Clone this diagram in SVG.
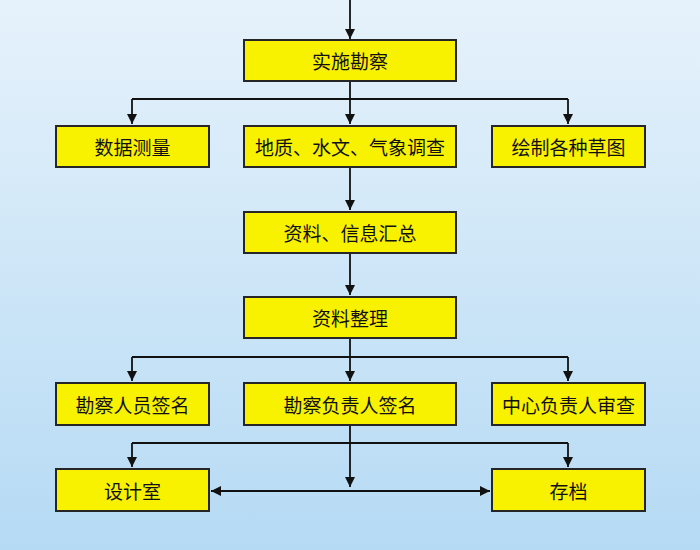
<svg xmlns="http://www.w3.org/2000/svg" width="700" height="550" viewBox="0 0 700 550">
<defs>
<linearGradient id="bg" x1="0" y1="0" x2="0" y2="1">
<stop offset="0" stop-color="#e6f2fb"/>
<stop offset="1" stop-color="#b5daf4"/>
</linearGradient>
<marker id="ah" markerWidth="10" markerHeight="12" refX="10" refY="6" orient="auto" markerUnits="userSpaceOnUse">
<path d="M0,1 L10,6 L0,11 Z" fill="#111"/>
</marker>
<marker id="ahs" markerWidth="10" markerHeight="12" refX="10" refY="6" orient="auto-start-reverse" markerUnits="userSpaceOnUse">
<path d="M0,1 L10,6 L0,11 Z" fill="#111"/>
</marker>
</defs>
<style>
.box{fill:#f8f200;stroke:#262626;stroke-width:2}
.t{font-family:"Noto Sans CJK SC","Noto Sans",sans-serif;font-size:19px;fill:#111;text-anchor:middle;dominant-baseline:central}
.c{fill:none;stroke:#111;stroke-width:1.8}
</style>
<rect width="700" height="550" fill="url(#bg)"/>
<g id="connectors">
<path class="c" d="M350,0 V39" marker-end="url(#ah)"/>
<path class="c" d="M350,81 V124" marker-end="url(#ah)"/>
<path class="c" d="M132,99 H568"/>
<path class="c" d="M132,99 V124" marker-end="url(#ah)"/>
<path class="c" d="M568,99 V124" marker-end="url(#ah)"/>
<path class="c" d="M350,167 V210" marker-end="url(#ah)"/>
<path class="c" d="M350,253 V295" marker-end="url(#ah)"/>
<path class="c" d="M350,338 V381" marker-end="url(#ah)"/>
<path class="c" d="M132,357 H568"/>
<path class="c" d="M132,357 V381" marker-end="url(#ah)"/>
<path class="c" d="M568,357 V381" marker-end="url(#ah)"/>
<path class="c" d="M350,425 V487" marker-end="url(#ah)"/>
<path class="c" d="M132,443 H568"/>
<path class="c" d="M132,443 V467" marker-end="url(#ah)"/>
<path class="c" d="M568,443 V467" marker-end="url(#ah)"/>
<path class="c" d="M211,491 H490" marker-start="url(#ahs)" marker-end="url(#ah)"/>
</g>
<g id="n1"><rect class="box" x="244" y="40" width="212" height="41"/><text class="t" x="350" y="60.5">实施勘察</text></g>
<g id="n2"><rect class="box" x="56" y="126" width="153" height="41"/><text class="t" x="132.5" y="146.5">数据测量</text></g>
<g id="n3"><rect class="box" x="244" y="126" width="212" height="41"/><text class="t" x="350" y="146.5">地质、水文、气象调查</text></g>
<g id="n4"><rect class="box" x="492" y="126" width="153" height="41"/><text class="t" x="568.5" y="146.5">绘制各种草图</text></g>
<g id="n5"><rect class="box" x="244" y="212" width="212" height="41"/><text class="t" x="350" y="232.5">资料、信息汇总</text></g>
<g id="n6"><rect class="box" x="244" y="297" width="212" height="41"/><text class="t" x="350" y="317.5">资料整理</text></g>
<g id="n7"><rect class="box" x="56" y="383" width="153" height="42"/><text class="t" x="132.5" y="404">勘察人员签名</text></g>
<g id="n8"><rect class="box" x="244" y="383" width="212" height="42"/><text class="t" x="350" y="404">勘察负责人签名</text></g>
<g id="n9"><rect class="box" x="492" y="383" width="153" height="42"/><text class="t" x="568.5" y="404">中心负责人审查</text></g>
<g id="n10"><rect class="box" x="56" y="469" width="153" height="42"/><text class="t" x="132.5" y="490">设计室</text></g>
<g id="n11"><rect class="box" x="492" y="469" width="153" height="42"/><text class="t" x="568.5" y="490">存档</text></g>
</svg>
